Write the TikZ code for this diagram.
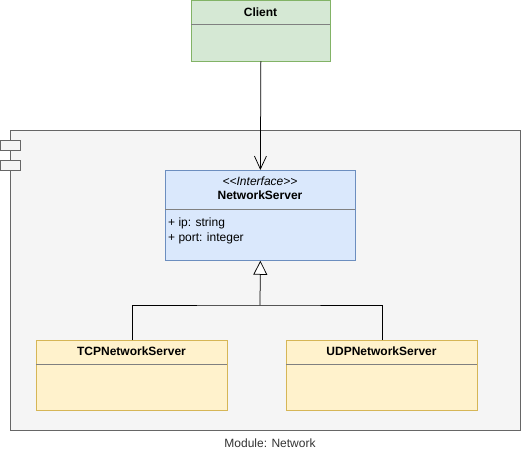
\documentclass[tikz,border=0pt]{standalone}
\usepackage{fontspec}
\setmainfont{Liberation Sans}
\usetikzlibrary{arrows.meta}
\definecolor{clientfill}{HTML}{D5E8D4}
\definecolor{clientline}{HTML}{82B366}
\definecolor{ifacefill}{HTML}{DAE8FC}
\definecolor{ifaceline}{HTML}{6C8EBF}
\definecolor{implfill}{HTML}{FFF2CC}
\definecolor{implline}{HTML}{D6B656}
\definecolor{modfill}{HTML}{F5F5F5}
\definecolor{modline}{HTML}{666666}
\definecolor{divline}{HTML}{808080}
\definecolor{labeltext}{HTML}{333333}
\tikzset{
  classbox/.style={draw, line width=0.75pt, minimum width=#1, inner sep=0pt, anchor=north west},
  titletext/.style={font=\fontsize{12}{14}\selectfont\bfseries},
  plaintext/.style={font=\fontsize{12}{15}\selectfont, inner sep=0pt},
  divider/.style={draw=divline, line width=0.75pt},
  conn/.style={draw=black, line width=0.75pt},
}
\begin{document}
\begin{tikzpicture}[x=1pt,y=-1pt]
\useasboundingbox (0,0) rectangle (521,452);
% module
\path[fill=modfill, draw=modline, line width=0.75pt] (10,130) rectangle (520,430);
\path[fill=modfill, draw=modline, line width=0.75pt] (0,140) rectangle (20,150);
\path[fill=modfill, draw=modline, line width=0.75pt] (0,160) rectangle (20,170);
\node[plaintext, text=labeltext] (modlabel) at (270,443) {Module: Network};
% client
\node[classbox=139pt, minimum height=60pt, fill=clientfill, draw=clientline] (client) at (191,0.5) {};
\draw[divider] (191.4,24) -- (329.6,24);
\node[titletext] (clienttitle) at (260.5,12) {Client};
% network server
\node[classbox=190pt, minimum height=90pt, fill=ifacefill, draw=ifaceline] (ns) at (165,170) {};
\draw[divider] (165.4,209) -- (354.6,209);
\node[plaintext, font=\fontsize{12}{14}\selectfont\itshape] (stereo) at (260,181) {<{}<Interface>{}>};
\node[titletext] (nstitle) at (260,195.5) {NetworkServer};
\node[plaintext, anchor=west] (attr1) at (168,223) {+ ip: string};
\node[plaintext, anchor=west] (attr2) at (168,238) {+ port: integer};
% implementations
\node[classbox=191pt, minimum height=70pt, fill=implfill, draw=implline] (tcp) at (36,340) {};
\draw[divider] (36.4,364) -- (226.6,364);
\node[titletext] (tcptitle) at (131.5,351.5) {TCPNetworkServer};
\node[classbox=191pt, minimum height=70pt, fill=implfill, draw=implline] (udp) at (286,340) {};
\draw[divider] (286.4,364) -- (476.6,364);
\node[titletext] (udptitle) at (381.5,351.5) {UDPNetworkServer};
% connectors
\draw[conn, -{Straight Barb[length=13pt, width=12pt, line width=0.75pt]}] (client.south) -- (ns.north);
\coordinate (junction) at (260,305);
\draw[conn] (tcp.north) |- (junction) -| (udp.north);
\draw[conn, -{Triangle[open, fill=white, length=14pt, width=14pt, line width=0.75pt]}] (junction) -- (ns.south);
\end{tikzpicture}
\end{document}
